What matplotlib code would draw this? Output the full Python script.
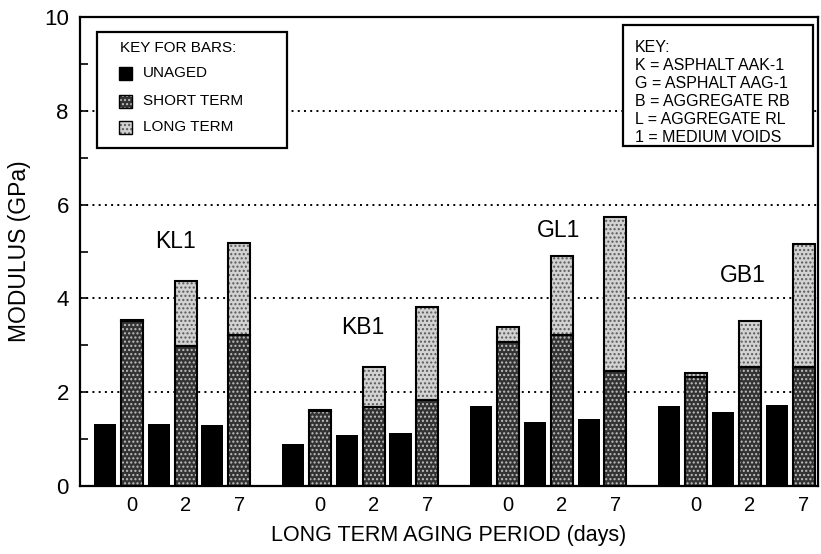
import numpy as np
import matplotlib
matplotlib.use('Agg')
import matplotlib.pyplot as plt
from matplotlib.patches import Rectangle

plt.rcParams['font.family'] = ['Liberation Sans', 'DejaVu Sans']
plt.rcParams['hatch.linewidth'] = 1.0

# data (GPa)
groups = ['KL1', 'KB1', 'GL1', 'GB1']
periods = ['0', '2', '7']
unaged = [[1.32, 1.32, 1.31],
          [0.89, 1.09, 1.14],
          [1.70, 1.36, 1.43],
          [1.71, 1.57, 1.72]]
short_term = [[3.52, 2.99, 3.21],
              [1.60, 1.69, 1.84],
              [3.07, 3.21, 2.45],
              [2.33, 2.54, 2.54]]
long_term = [[3.55, 4.38, 5.19],   # top of stacked bar
             [1.63, 2.54, 3.82],
             [3.39, 4.90, 5.73],
             [2.41, 3.52, 5.15]]
key_lines = ['KEY:', 'K = ASPHALT AAK-1', 'G = ASPHALT AAG-1',
             'B = AGGREGATE RB', 'L = AGGREGATE RL', '1 = MEDIUM VOIDS']

# layout
label_pos = [(2.64, 5.22), (9.61, 3.37), (16.9, 5.44), (23.73, 4.48)]
width = 0.82
SHORT = dict(facecolor='#333333', edgecolor='#c0c0c0', hatch='....')
LONG = dict(facecolor='#d2d2d2', edgecolor='#5a5a5a', hatch='....')

fig = plt.figure(figsize=(8.21, 5.54), dpi=100)
ax = fig.add_axes([0.0974, 0.1227, 0.899, 0.8466])

un = np.array(unaged)
st = np.array(short_term)
lt = np.array(long_term)
base = np.arange(len(groups)) * 7
x_un = (base[:, None] + np.array([0, 2, 4])).ravel()
x_st = x_un + 1

ax.bar(x_un, un.ravel(), width, color='black', zorder=3)
ax.bar(x_st, st.ravel(), width, linewidth=0, zorder=3, **SHORT)
ax.bar(x_st, (lt - st).ravel(), width, bottom=st.ravel(), linewidth=0,
       zorder=3, **LONG)
ax.bar(x_st, st.ravel(), width, facecolor='none', edgecolor='black',
       linewidth=1.5, zorder=4)
ax.bar(x_st, (lt - st).ravel(), width, bottom=st.ravel(), facecolor='none',
       edgecolor='black', linewidth=1.5, zorder=4)

for name, (lx, ly) in zip(groups, label_pos):
    ax.text(lx, ly, name, fontsize=16.5, ha='center', va='center', zorder=5)

ax.set_xlim(-0.93, 26.54)
ax.set_ylim(0, 10)
ax.set_xticks(x_st)
ax.set_xticklabels(periods * len(groups), fontsize=14.5)
ax.tick_params(axis='x', length=0, pad=7)
ax.set_yticks(np.arange(0, 11, 2))
ax.set_yticks(np.arange(1, 10, 2), minor=True)
ax.tick_params(axis='y', which='both', direction='in', length=6, width=1.2,
               labelsize=16, pad=8)
ax.yaxis.grid(True, which='major', color='black', linestyle=(0, (1, 2.2)),
              linewidth=1.4, zorder=0)
ax.set_axisbelow(True)
for s in ax.spines.values():
    s.set_linewidth(1.6)

ax.set_xlabel('LONG TERM AGING PERIOD (days)', fontsize=15.5)
ax.xaxis.set_label_coords(0.5, -0.083)
ax.xaxis.label.set_va('top')
ax.set_ylabel('MODULUS (GPa)', fontsize=16.5)
ax.yaxis.set_label_coords(-0.066, 0.5)

# key for bars
ax.add_patch(Rectangle((0.0226, 0.7207), 0.258, 0.248, transform=ax.transAxes,
                       facecolor='white', edgecolor='black', linewidth=1.6,
                       zorder=6))
ax.text(0.0542, 0.934, 'KEY FOR BARS:', transform=ax.transAxes, fontsize=11,
        va='center', zorder=7)
swatches = [dict(facecolor='black', edgecolor='black'), SHORT, LONG]
labels = ['UNAGED', 'SHORT TERM', 'LONG TERM']
for yy, sw, lab in zip([0.8806, 0.8209, 0.7655], swatches, labels):
    ax.add_patch(Rectangle((0.0528, yy - 0.0139), 0.0176, 0.0277,
                           transform=ax.transAxes, linewidth=0, zorder=7, **sw))
    ax.add_patch(Rectangle((0.0528, yy - 0.0139), 0.0176, 0.0277,
                           transform=ax.transAxes, facecolor='none',
                           edgecolor='black', linewidth=1, zorder=8))
    ax.text(0.0854, yy, lab, transform=ax.transAxes, fontsize=11,
            va='center', zorder=7)

# key for labels
ax.add_patch(Rectangle((0.736, 0.725), 0.257, 0.258, transform=ax.transAxes,
                       facecolor='white', edgecolor='black', linewidth=1.6,
                       zorder=6))
for i, line in enumerate(key_lines):
    ax.text(0.752, 0.936 - i * 0.0384, line, transform=ax.transAxes,
            fontsize=11.5, va='center', zorder=7)

fig.savefig('out.png', dpi=100)
